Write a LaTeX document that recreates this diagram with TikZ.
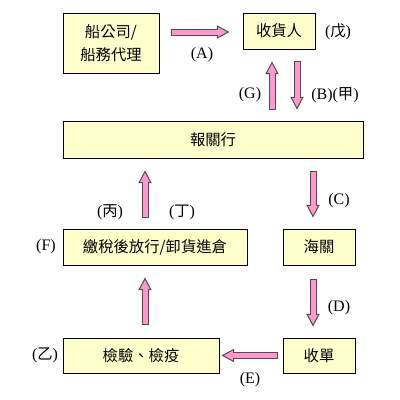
\documentclass[tikz,border=0pt]{standalone}
\usepackage{fontspec}
\setmainfont{Liberation Serif}
\newfontfamily\cjkfont{Noto Sans CJK TC}
\usetikzlibrary{positioning, calc, arrows.meta}

\definecolor{boxyellow}{HTML}{FFFFCC}
\definecolor{arrowpink}{HTML}{FF99CC}
\definecolor{arrowedge}{HTML}{4D4D4D}
\newcommand{\cjkch}[1]{{\cjkfont\fontsize{11.5pt}{14pt}\selectfont #1}}

\begin{document}
\begin{tikzpicture}[x=0.75pt, y=-0.75pt]
    % Define styles
    \tikzstyle{block} = [rectangle, draw=black, line width=0.75pt, fill=boxyellow, inner sep=0pt, align=center, font=\cjkfont\fontsize{11.5pt}{17pt}\selectfont]
    \tikzstyle{tag} = [inner sep=0pt, font=\fontsize{12pt}{14pt}\selectfont]
    \tikzstyle{arrow} = [draw=arrowedge, line width=5.25pt, -{Triangle[length=9.5pt, width=10pt, line width=0.75pt, color=arrowedge, fill=arrowpink]}, postaction={draw=arrowpink, line width=3.75pt, -, shorten <=0.75pt, shorten >=8.5pt}]

    \useasboundingbox (0,0) rectangle (400,400);

    % Nodes
    \node (ship) [block, minimum width=72pt, minimum height=45pt] at (111,43) {船公司/\\船務代理};
    \node (consignee) [block, minimum width=54pt, minimum height=27pt] at (279,31) {收貨人};
    \node (broker) [block, minimum width=225pt, minimum height=27.75pt] at (213,139.5) {報關行};
    \node (release) [block, minimum width=138pt, minimum height=27pt] at (155,247) {繳稅後放行/卸貨進倉};
    \node (customs) [block, minimum width=54pt, minimum height=27pt] at (319,247) {海關};
    \node (inspect) [block, minimum width=117pt, minimum height=26.25pt] at (141,355.5) {檢驗、檢疫};
    \node (receipt) [block, minimum width=54pt, minimum height=26.25pt] at (319,355.5) {收單};

    \coordinate (colL) at (145,0);
    \coordinate (colR) at (313,0);

    % Labels
    \node (tagA) [tag] at (202,55) {(A)};
    \node (tagWu) [tag] at (338,32) {(\cjkch{戊})};
    \node (tagG) [tag] at (250,95) {(G)};
    \node (tagB) [tag] at (335,95) {(B)(\cjkch{甲})};
    \node (tagBing) [tag] at (110,212) {(\cjkch{丙})};
    \node (tagDing) [tag] at (182,212) {(\cjkch{丁})};
    \node (tagC) [tag] at (339,201) {(C)};
    \node (tagF) [tag] at (46,247) {(F)};
    \node (tagD) [tag] at (339,308) {(D)};
    \node (tagYi) [tag] at (45,355) {(\cjkch{乙})};
    \node (tagE) [tag] at (250,380) {(E)};

    % Arrows
    \draw [arrow] ($(ship.east |- consignee.west)+(11,1)$) -- ($(consignee.west)+(-13,1)$);
    \draw [arrow] ($(consignee.south |- broker.north)+(-7,-11)$) -- ($(consignee.south)+(-7,12)$);
    \draw [arrow] ($(consignee.south)+(18,11)$) -- ($(consignee.south |- broker.north)+(18,-11)$);
    \draw [arrow] ($(release.north -| colL)+(0,-11)$) -- ($(broker.south -| colL)+(0,12)$);
    \draw [arrow] ($(broker.south -| colR)+(0,12)$) -- ($(customs.north -| colR)+(0,-11)$);
    \draw [arrow] ($(inspect.north -| colL)+(0,-13)$) -- ($(release.south -| colL)+(0,12)$);
    \draw [arrow] ($(customs.south -| colR)+(0,13)$) -- ($(receipt.north -| colR)+(0,-11)$);
    \draw [arrow] ($(receipt.west)+(-5,0)$) -- ($(inspect.east)+(2,0)$);
\end{tikzpicture}
\end{document}
